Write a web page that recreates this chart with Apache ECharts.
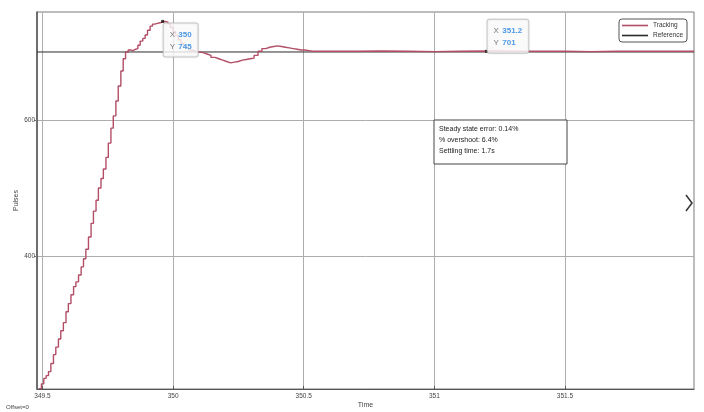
<!DOCTYPE html>
<html><head><meta charset="utf-8">
<script src="https://cdn.jsdelivr.net/npm/echarts@6/dist/echarts.min.js"></script>
<style>html,body{margin:0;padding:0;background:#fff}#c{width:704px;height:412px}</style>
</head><body><div id="c"></div>
<script>
const xTicks = [349.5, 350, 350.5, 351, 351.5];
const yTicks = [400, 600];
const xRange = [349.479, 351.994];
const yRange = [204.4, 758.8];

const trackTime = [
  349.486,349.496,349.505,349.514,349.523,349.532,349.542,349.551,349.561,349.570,
  349.580,349.590,349.599,349.609,349.619,349.628,349.638,349.648,349.657,349.666,
  349.676,349.686,349.695,349.705,349.714,349.724,349.733,349.743,349.752,349.762,
  349.771,349.781,349.790,349.800,349.809,349.818,349.828,349.837,349.846,349.856,
  349.865,349.874,349.884,349.893,349.902,349.912,349.921,349.930,349.940,349.950,
  349.960,
  349.970,349.980,349.990,350.000,350.010,350.020,350.030,350.040,350.050,350.060,
  350.070,350.080,350.090,350.100,
  350.115,350.130,350.145,350.160,350.175,350.190,350.205,350.220,350.235,350.250,
  350.265,350.280,350.295,350.310,350.325,350.340,350.355,350.370,350.385,350.400,
  350.415,350.430,350.445,350.460,350.475,350.490,350.505,350.520,350.535,
  350.6,350.7,350.8,350.9,351.0,351.1,351.2,351.3,351.4,351.5,351.6,351.7,351.8,351.9,351.994
];
const trackPulses = [
  205,212,220,224,230,242,255,266,278,290,
  302,318,330,343,355,362,372,384,396,410,
  428,448,466,482,500,514,528,545,566,588,
  606,628,650,672,690,700,703,702,704,705,
  710,716,720,725,732,738,741,742,743,744,
  745,
  744,741,736,730,724,718,713,709,706,703,
  702,701,700,699,
  697,695,692,690,688,686,684,685,686,688,
  689,690,691,695,701,705,707,708,709,708,
  707,706,705,704,703,703,702,701,701,
  701,701.5,701,700.5,701,701.5,701,701,701,700.5,701,701,701,701,701
];
const refTime = [349.479, 351.994];
const refPulses = [700, 700];

const tipTime = [349.96, 351.2];
const tipPulses = [745, 701];
const tipTextX = ['350', '351.2'];
const tipTextY = ['745', '701'];
const statsLines = ['Steady state error: 0.14%', '% overshoot: 6.4%', 'Settling time: 1.7s'];

const FONT = 'Liberation Sans, Arial, sans-serif';
const tipLabelPos = [[2.5, 3.5], [2.5, -30]];

const chart = echarts.init(document.getElementById('c'), null, {renderer: 'canvas'});
chart.setOption({
  animation: false,
  backgroundColor: '#fff',
  textStyle: {fontFamily: FONT},
  grid: {left: 37, right: 10, top: 12, bottom: 23, outerBoundsMode: 'none', containLabel: false,
    show: true, borderColor: '#7a7a7a', borderWidth: 1, backgroundColor: 'transparent'},
  legend: {
    right: 17, top: 19, orient: 'vertical', itemWidth: 26, itemHeight: 1.6, itemGap: 3,
    borderColor: '#555', borderWidth: 1, borderRadius: 3, padding: [3, 4, 3, 3],
    backgroundColor: '#fff',
    textStyle: {fontSize: 6.5, color: '#333', fontFamily: FONT},
    data: [{name: 'Tracking', icon: 'rect'}, {name: 'Reference', icon: 'rect'}]
  },
  xAxis: {
    type: 'value', min: xRange[0], max: xRange[1],
    name: 'Time', nameLocation: 'middle', nameGap: 13, nameMoveOverlap: false,
    nameTextStyle: {fontSize: 7, color: '#444', fontFamily: FONT},
    axisLine: {show: true, onZero: false, lineStyle: {color: '#555', width: 1.2}},
    axisTick: {show: true, length: 3, inside: true, customValues: xTicks, lineStyle: {color: '#555'}},
    axisLabel: {customValues: xTicks, fontSize: 6.5, color: '#444', margin: 4, formatter: v => String(v)},
    splitLine: {show: true, lineStyle: {color: '#adadad', width: 1}}
  },
  yAxis: {
    type: 'value', min: yRange[0], max: yRange[1],
    name: 'Pulses', nameLocation: 'middle', nameGap: 17, nameMoveOverlap: false,
    nameTextStyle: {fontSize: 7, color: '#444', fontFamily: FONT},
    axisLine: {show: true, onZero: false, lineStyle: {color: '#555', width: 1.5}},
    axisTick: {show: true, length: 3, customValues: yTicks, lineStyle: {color: '#777'}},
    axisLabel: {customValues: yTicks, fontSize: 6.5, color: '#444', margin: 2},
    splitLine: {show: true, lineStyle: {color: '#adadad', width: 1}}
  },
  series: [
    {
      name: 'Reference', type: 'line', symbol: 'none', z: 2,
      color: '#2b2b2b',
      lineStyle: {color: '#2b2b2b', width: 1},
      data: refTime.map((t, i) => [t, refPulses[i]])
    },
    {
      name: 'Tracking', type: 'line', symbol: 'none', step: 'end', z: 3,
      color: '#b24e66',
      lineStyle: {color: '#b24e66', width: 1.4},
      data: trackTime.map((t, i) => [t, trackPulses[i]])
    },
    {
      name: 'tips', type: 'scatter', symbol: 'rect', symbolSize: 3, z: 5,
      itemStyle: {color: '#111'},
      data: tipTime.map((t, i) => ({
        value: [t, tipPulses[i]],
        label: {show: true, position: tipLabelPos[i]}
      })),
      label: {
        show: true,
        formatter: p => `{k|X} {v|${tipTextX[p.dataIndex]}}\n{k|Y} {v|${tipTextY[p.dataIndex]}}`,
        backgroundColor: '#fff', borderColor: '#c4c4c4', borderWidth: 1, borderRadius: 2,
        padding: [5, 6, 4, 6],
        shadowColor: 'rgba(0,0,0,0.12)', shadowBlur: 2,
        rich: {
          k: {fontSize: 8, color: '#555', fontFamily: FONT, lineHeight: 11},
          v: {fontSize: 8, color: '#1f7fe0', fontWeight: 'bold', fontFamily: FONT, lineHeight: 11}
        }
      }
    }
  ],
  graphic: [
    {type: 'rect', shape: {x: 434, y: 120, width: 133, height: 44}, style: {fill: '#fff', stroke: '#444', lineWidth: 1}, z: 10},
    {type: 'text', x: 439, y: 124, z: 11, style: {text: statsLines.join('\n'), font: '7px ' + FONT, fill: '#222', lineHeight: 11}},
    {type: 'text', x: 6, y: 404, z: 11, style: {text: 'Offset=0', font: '6px ' + FONT, fill: '#444'}},
    {type: 'polyline', shape: {points: [[686, 195], [692, 203], [686, 211]]}, style: {stroke: '#333', lineWidth: 1.5, fill: null}, z: 11}
  ]
});
</script>
</body></html>
